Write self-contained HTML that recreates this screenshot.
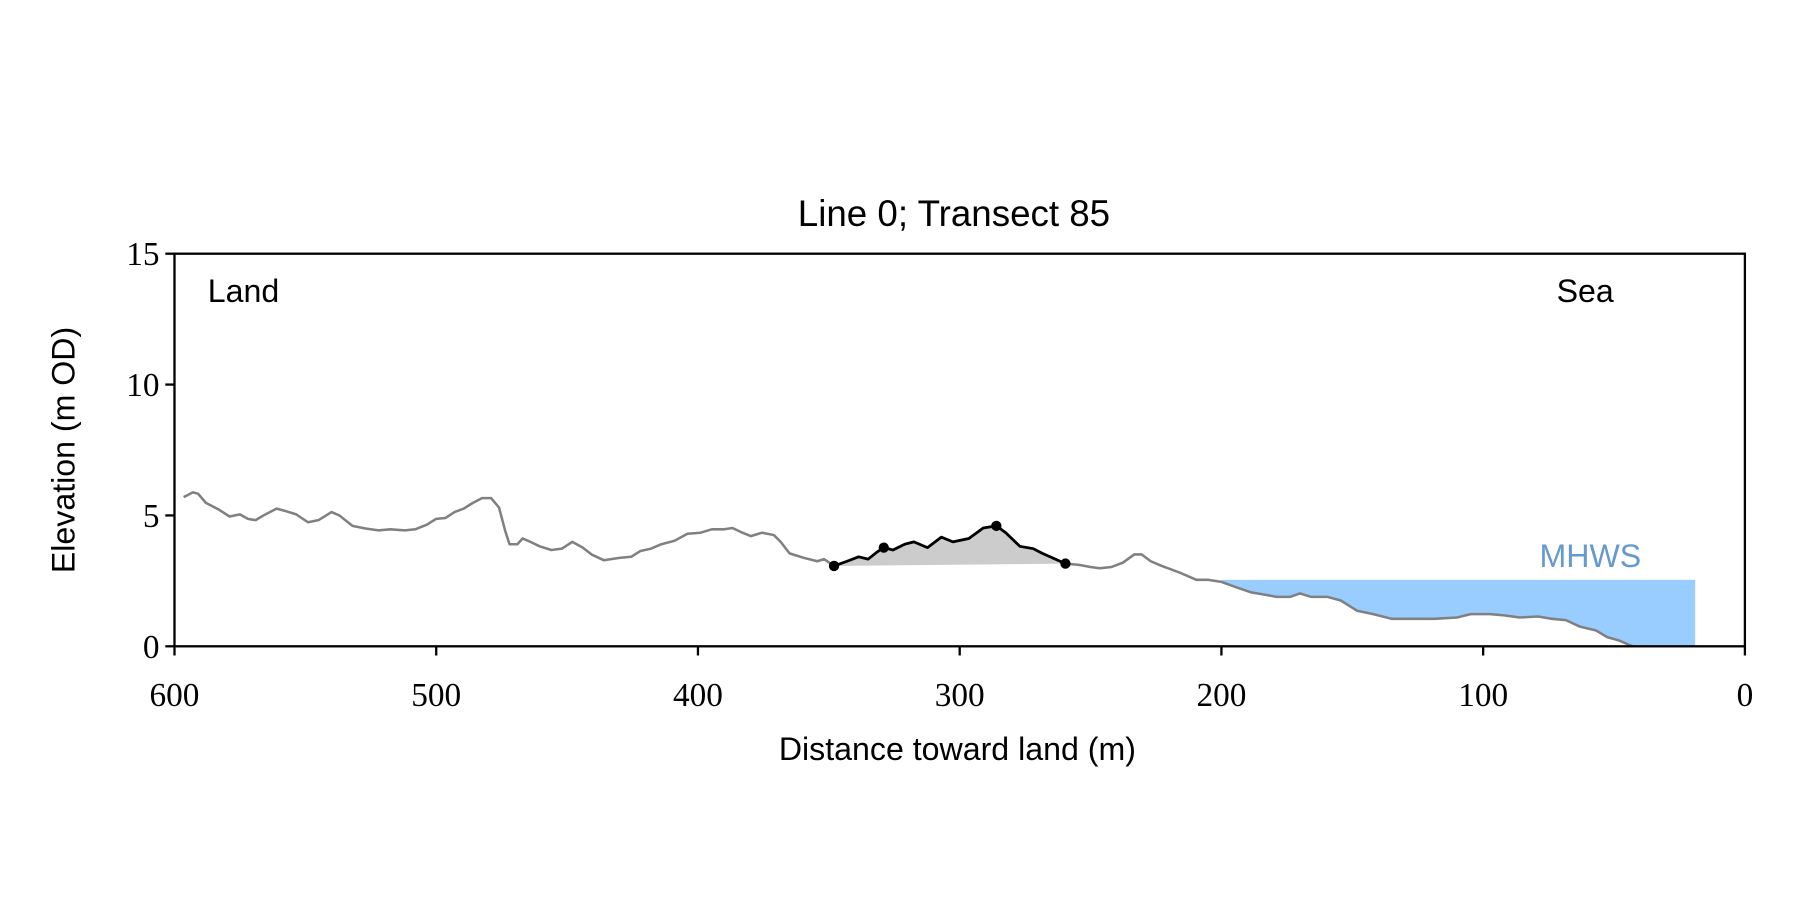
<!DOCTYPE html>
<html><head><meta charset="utf-8"><style>html,body{margin:0;padding:0;background:#fff;}svg{display:block;}</style></head>
<body>
<svg id="chart" width="1800" height="900" viewBox="0 0 1568 784" xmlns="http://www.w3.org/2000/svg">
<rect width="1568" height="784" fill="#fff"/>
<g id="plot"></g>
<text x="831" y="197" text-anchor="middle" font-family="Liberation Sans, sans-serif" font-size="32" fill="#000">Line 0; Transect 85</text>
<text x="181" y="263" font-family="Liberation Sans, sans-serif" font-size="28" fill="#000">Land</text>
<text x="1356" y="263" font-family="Liberation Sans, sans-serif" font-size="28" fill="#000">Sea</text>
<text x="834" y="662" text-anchor="middle" font-family="Liberation Sans, sans-serif" font-size="28" fill="#000">Distance toward land (m)</text>
<text transform="translate(65,392) rotate(-90)" text-anchor="middle" font-family="Liberation Sans, sans-serif" font-size="28" fill="#000">Elevation (m OD)</text>
</svg>
<script>
const profileX=[596.5,593,591,588,583,579,575,572,569,566,561,558,553.5,549,545,540,537,532,527,522,517.5,512,508,503.5,500,496.5,493,489.5,486,482.5,479,476,473.7,472,469,467,464,460.5,456,452,448,444,440.5,436,430,425.5,422,418,414,409,404,399,394.7,390,386.8,383,379.8,375.5,371,368.4,365,359.6,354.4,351.8,348,343,338.6,335,331.6,329,325.5,321,317.5,312.3,307,302.6,296.5,291,286,282.4,277,271.9,268.4,259.6,254.4,250,246.5,242,237.6,233.3,230.5,227,222.8,215.8,209.6,205,200,193.9,188.6,183.3,179,173.7,170,165.8,159.6,154.4,148.2,142,135,127,118.7,110,104.8,97.4,92,86,79,73.7,68.4,63,57,52.6,48,43.9,40];
const profileY=[5.70,5.88,5.83,5.48,5.22,4.96,5.04,4.87,4.82,5.0,5.26,5.18,5.04,4.74,4.82,5.13,5.0,4.6,4.5,4.43,4.47,4.43,4.47,4.65,4.87,4.9,5.13,5.26,5.48,5.66,5.66,5.3,4.43,3.9,3.9,4.12,3.99,3.82,3.68,3.73,3.99,3.77,3.5,3.29,3.38,3.42,3.64,3.73,3.9,4.03,4.3,4.34,4.47,4.47,4.52,4.34,4.21,4.34,4.25,3.99,3.55,3.38,3.25,3.33,3.07,3.25,3.42,3.33,3.6,3.77,3.68,3.9,3.99,3.77,4.17,3.99,4.12,4.52,4.6,4.34,3.82,3.73,3.55,3.16,3.11,3.03,2.98,3.03,3.2,3.51,3.51,3.25,3.07,2.81,2.54,2.54,2.46,2.24,2.06,1.97,1.89,1.89,2.02,1.89,1.89,1.75,1.36,1.23,1.05,1.05,1.05,1.1,1.23,1.23,1.18,1.1,1.14,1.05,1.0,0.75,0.61,0.35,0.22,0.04,-0.1];
const duneStartX=348, duneEndX=259.6;
const duneMarkersX=[348,329,286,259.6];
const mhwsLevel=2.54, mhwsFromX=200, mhwsToX=19;
const xTicks=[600,500,400,300,200,100,0];
const yTicks=[0,5,10,15];
const X0=152,X1=1520,Y0=563,Y1=221;
const sx=v=>X0+(600-v)/600*(X1-X0);
const sy=v=>Y0-v/15*(Y0-Y1);
const NS='http://www.w3.org/2000/svg';
const plot=document.getElementById('plot');
function mk(tag,attrs){const e=document.createElementNS(NS,tag);for(const k in attrs)e.setAttribute(k,attrs[k]);plot.appendChild(e);return e;}
function interp(x){for(let i=0;i<profileX.length-1;i++){const a=profileX[i],b=profileX[i+1];if((x<=a&&x>=b)){const t=(a-x)/(a-b||1);return profileY[i]+t*(profileY[i+1]-profileY[i]);}}return profileY[profileY.length-1];}
// clip
const defs=mk('defs',{});
const cp=document.createElementNS(NS,'clipPath');cp.setAttribute('id','clip');
const cr=document.createElementNS(NS,'rect');cr.setAttribute('x',X0);cr.setAttribute('y',Y1);cr.setAttribute('width',X1-X0);cr.setAttribute('height',Y0-Y1);cp.appendChild(cr);defs.appendChild(cp);
// MHWS fill
let pts=[];
for(let i=0;i<profileX.length;i++){if(profileX[i]<=mhwsFromX)pts.push([sx(profileX[i]),sy(Math.max(0,Math.min(mhwsLevel,profileY[i])))]);}
let mp=`M${sx(mhwsFromX)},${sy(mhwsLevel)} L${sx(mhwsToX)},${sy(mhwsLevel)} L${sx(mhwsToX)},${sy(0)} `;
for(let i=pts.length-1;i>=0;i--)mp+=`L${pts[i][0]},${pts[i][1]} `;
mp+=`L${sx(mhwsFromX)},${sy(Math.min(mhwsLevel,interp(mhwsFromX)))} Z`;
const mf=mk('path',{d:mp,fill:'#99ccff','clip-path':'url(#clip)'});


const ml=mk('text',{x:sx(mhwsToX)-47,y:sy(mhwsLevel)-11,'text-anchor':'end','font-family':'Liberation Sans, sans-serif','font-size':'28',fill:'#6699cc'});
ml.textContent='MHWS';


// dune fill
const y1=interp(duneStartX),y2=interp(duneEndX);
let dp=`M${sx(duneStartX)},${sy(y1)} `;
const dIdx=[];
for(let i=0;i<profileX.length;i++){if(profileX[i]<=duneStartX&&profileX[i]>=duneEndX){dIdx.push(i);dp+=`L${sx(profileX[i])},${sy(profileY[i])} `;}}
dp+=`L${sx(duneEndX)},${sy(y2)} Z`;
const df=mk('path',{d:dp,fill:'#cccccc'});


// profile line
const gp=mk('polyline',{points:profileX.map((x,i)=>sx(x)+','+sy(profileY[i])).join(' '),fill:'none',stroke:'#808080','stroke-width':'2.2','stroke-linejoin':'round','clip-path':'url(#clip)'});


const bp=mk('polyline',{points:dIdx.map(i=>sx(profileX[i])+','+sy(profileY[i])).join(' '),fill:'none',stroke:'#000','stroke-width':'2.4','stroke-linejoin':'round'});


duneMarkersX.forEach(x=>{const c=mk('circle',{cx:sx(x),cy:sy(interp(x)),r:4.5,fill:'#000'});

});
// axes frame
const fr=mk('rect',{x:X0,y:Y1,width:X1-X0,height:Y0-Y1,fill:'none',stroke:'#000','stroke-width':'2'});


xTicks.forEach(v=>{const x=sx(v);
const t=mk('line',{x1:x,y1:Y0,x2:x,y2:Y0+8,stroke:'#000','stroke-width':'2'});


const l=mk('text',{x:x,y:Y0+52,'text-anchor':'middle','font-family':'Liberation Serif, serif','font-size':'29',fill:'#000'});l.textContent=v;

});
yTicks.forEach(v=>{const y=sy(v);
const t=mk('line',{x1:X0-8,y1:y,x2:X0,y2:y,stroke:'#000','stroke-width':'2'});


const l=mk('text',{x:X0-13,y:y+10,'text-anchor':'end','font-family':'Liberation Serif, serif','font-size':'29',fill:'#000'});l.textContent=v;

});
</script>
</body></html>
